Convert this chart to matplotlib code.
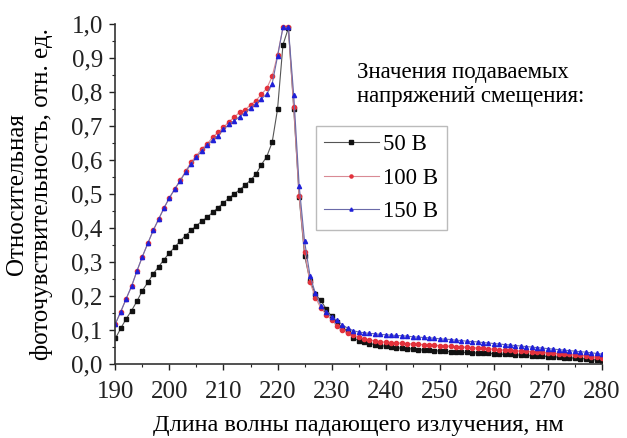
import numpy as np
import matplotlib
matplotlib.use("Agg")
import matplotlib.pyplot as plt
from matplotlib.ticker import MultipleLocator, FuncFormatter

plt.rcParams["font.family"] = ["Liberation Serif", "DejaVu Serif"]

wl = list(range(190, 281))

v50 = [0.075, 0.105, 0.133, 0.157, 0.185, 0.216, 0.240, 0.265, 0.286, 0.307,
       0.327, 0.344, 0.362, 0.378, 0.393, 0.407, 0.420, 0.432, 0.446, 0.460,
       0.474, 0.488, 0.500, 0.513, 0.526, 0.541, 0.558, 0.586, 0.610, 0.652,
       0.750, 0.939, 0.988, 0.750, 0.490, 0.319, 0.245, 0.205, 0.187, 0.162,
       0.140, 0.123, 0.106, 0.096, 0.077, 0.069, 0.064, 0.060, 0.057, 0.054,
       0.052,
       0.050, 0.048, 0.046, 0.045, 0.044, 0.042, 0.041, 0.040, 0.039, 0.038,
       0.037, 0.036, 0.035, 0.034, 0.034, 0.033, 0.032, 0.031, 0.031, 0.030,
       0.029, 0.028, 0.028, 0.027, 0.026, 0.025, 0.024, 0.024, 0.023, 0.022,
       0.021, 0.020, 0.019, 0.018, 0.017, 0.016, 0.015, 0.013, 0.012, 0.010]

v100 = [0.118, 0.154, 0.192, 0.229, 0.274, 0.316, 0.355, 0.393, 0.426, 0.459,
        0.489, 0.515, 0.541, 0.567, 0.594, 0.613, 0.633, 0.648, 0.667, 0.682,
        0.696, 0.713, 0.726, 0.741, 0.748, 0.762, 0.775, 0.793, 0.811, 0.846,
        0.909, 0.990, 0.990, 0.755, 0.493, 0.330, 0.241, 0.195, 0.165, 0.145,
        0.130, 0.113, 0.100, 0.090, 0.084, 0.078, 0.074, 0.071, 0.068, 0.066,
        0.064,
        0.063, 0.062, 0.061, 0.060, 0.059, 0.058, 0.057, 0.056, 0.055, 0.054,
        0.053, 0.052, 0.051, 0.050, 0.049, 0.048, 0.047, 0.046, 0.045, 0.043,
        0.042, 0.041, 0.040, 0.039, 0.038, 0.037, 0.036, 0.035, 0.034, 0.032,
        0.031, 0.030, 0.029, 0.028, 0.026, 0.025, 0.024, 0.022, 0.020, 0.018]

v150 = [0.118, 0.154, 0.192, 0.229, 0.274, 0.316, 0.355, 0.393, 0.426, 0.459,
        0.489, 0.515, 0.539, 0.565, 0.589, 0.608, 0.628, 0.643, 0.660, 0.672,
        0.690, 0.705, 0.716, 0.728, 0.739, 0.753, 0.766, 0.780, 0.794, 0.824,
        0.905, 0.990, 0.990, 0.790, 0.525, 0.361, 0.260, 0.208, 0.172, 0.152,
        0.138, 0.128, 0.115, 0.105, 0.098, 0.094, 0.092, 0.090, 0.089, 0.087,
        0.086,
        0.085, 0.084, 0.083, 0.082, 0.080, 0.079, 0.078, 0.077, 0.076, 0.074,
        0.073, 0.072, 0.070, 0.069, 0.067, 0.066, 0.065, 0.063, 0.062, 0.060,
        0.059, 0.057, 0.056, 0.054, 0.053, 0.051, 0.050, 0.048, 0.047, 0.045,
        0.044, 0.042, 0.041, 0.039, 0.038, 0.036, 0.035, 0.033, 0.031, 0.029]

# name, values, marker colour, line colour, marker
series = [("50 В", v50, "#111111", "#555555", "s"),
          ("100 В", v100, "#e3323c", "#d98a94", "o"),
          ("150 В", v150, "#2020d8", "#6a6aa8", "^")]

fig = plt.figure(figsize=(6.27, 4.38), dpi=100)
ax = fig.add_axes([0.184, 0.169, 0.776, 0.776])

for name, vals, mcol, lcol, mk in series:
    ax.plot(wl, vals, color=lcol, lw=0.8, marker=mk, ms=3.0, mec=mcol, mfc=mcol,
            label=name)

ax.set_xlim(190, 280)
ax.set_ylim(0, 1.0)
ax.xaxis.set_major_locator(MultipleLocator(10))
ax.xaxis.set_minor_locator(MultipleLocator(5))
ax.yaxis.set_major_locator(MultipleLocator(0.1))
ax.yaxis.set_minor_locator(MultipleLocator(0.05))
ax.yaxis.set_major_formatter(FuncFormatter(lambda v, p: f"{v:.1f}".replace(".", ",")))
ax.tick_params(which="major", direction="out", length=4, width=1, labelsize=18,
               colors="#222222", pad=5)
ax.tick_params(axis="x", which="major", pad=8)
ax.tick_params(which="minor", direction="out", length=2.5, width=0.8, colors="#222222")
for sp in ("top", "right"):
    ax.spines[sp].set_visible(False)
for sp in ("left", "bottom"):
    ax.spines[sp].set_color("#333333")
    ax.spines[sp].set_linewidth(1.2)

ax.set_xlabel("Длина волны падающего излучения, нм", fontsize=17.5, labelpad=9)
ax.set_ylabel("Относительная\nфоточувствительность, отн. ед.", fontsize=18, labelpad=13,
              linespacing=1.12)

fig.text(0.569, 0.807, "Значения подаваемых\nнапряжений смещения:", fontsize=16.5,
         ha="left", va="center", linespacing=1.2)
ax.legend(loc="upper left", bbox_to_anchor=(0.412, 0.70), fontsize=16.5, frameon=True,
          fancybox=False, edgecolor="#aaaaaa", handlelength=2.4, handletextpad=0.2,
          borderpad=0.35, labelspacing=0.55, borderaxespad=0, markerscale=0.75)

fig.savefig("out.png", dpi=100, facecolor="white")
